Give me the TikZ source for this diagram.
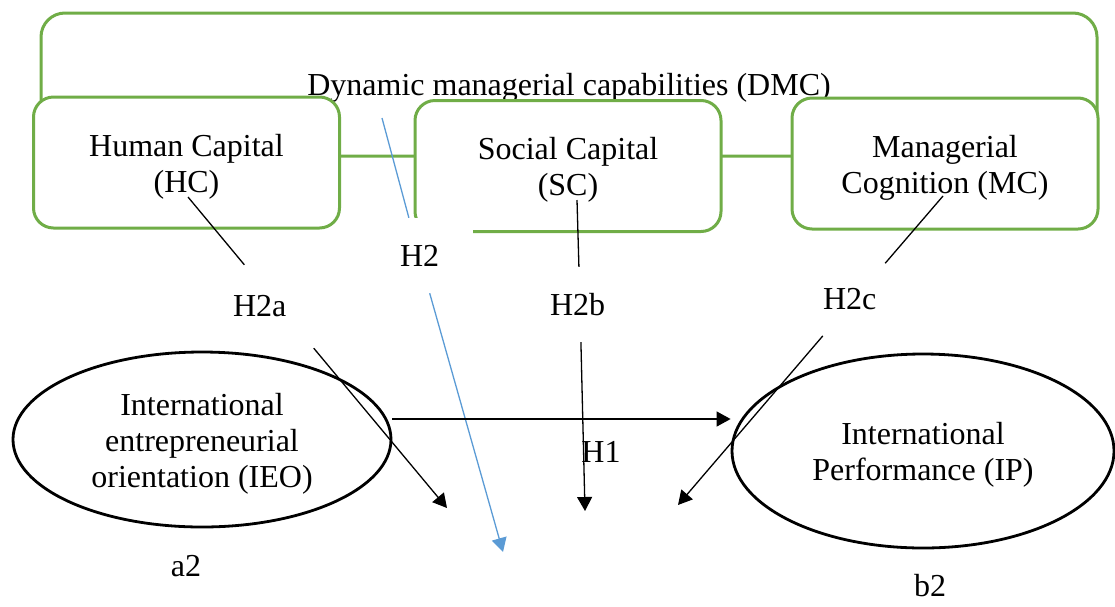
\documentclass[tikz,border=0pt]{standalone}
\usepackage{fontspec}
\setmainfont{Liberation Serif}
\usetikzlibrary{positioning,arrows.meta}
\usetikzlibrary{shapes.geometric}

\definecolor{capgreen}{HTML}{70AD47}
\definecolor{linkblue}{HTML}{5B9BD5}
\newcommand{\diagfont}{\fontsize{32}{36}\selectfont}

\begin{document}
\begin{tikzpicture}[
    x=1pt, y=-1pt,
    % Outer frame
    frame block/.style={
        draw=capgreen,
        line width=3pt,
        rounded corners=24pt,
        minimum width=1056pt,
        minimum height=143pt,
        text height=28pt,
        font=\diagfont
    },
    % Capabilities
    cap block/.style={
        draw=capgreen,
        fill=white,
        line width=3pt,
        rounded corners=20pt,
        minimum width=306pt,
        minimum height=131pt,
        text height=59pt,
        text depth=0pt,
        align=center,
        font=\diagfont
    },
    % Constructs
    construct/.style={
        ellipse,
        draw,
        line width=2.8pt,
        text depth=0pt,
        align=center,
        font=\diagfont
    },
    % Hypothesis labels
    hyp label/.style={
        fill=white,
        inner sep=0pt,
        align=left,
        font=\diagfont
    },
    plain label/.style={
        font=\diagfont
    },
    % Lines
    link/.style={
        line width=1.3pt
    },
    arrow/.style={
        -{Triangle[length=14pt,width=15pt]},
        line width=1.3pt
    }
]
\useasboundingbox (0,0) rectangle (1115,606);

% Frame and capability blocks
\node[frame block] (dmc) at (569,84.5) {Dynamic managerial capabilities (DMC)};
\node[cap block] (hc) at (186.5,162.5) {Human Capital\\(HC)};
\node[cap block] (sc) at (568,166) {Social Capital\\(SC)};
\node[cap block] (mc) at (945,163.5) {Managerial\\Cognition (MC)};

% Constructs
\node[construct, minimum width=378pt, minimum height=175pt, text height=95pt] (ieo) at (202,439.5) {International\\entrepreneurial\\orientation (IEO)};
\node[construct, minimum width=382pt, minimum height=194pt, text height=58pt] (ip) at (923,451) {International\\Performance (IP)};

% Hypotheses
\node[hyp label, text width=38pt, minimum width=108pt, minimum height=75pt] (h2) at (419,255.5) {H2};
\node[hyp label, text width=92pt, minimum height=83pt] (h2a) at (279,306.5) {H2a};
\node[hyp label, text width=60pt, minimum height=75pt] (h2b) at (580,304.5) {H2b};
\node[hyp label, text width=62pt, minimum height=75pt] (h2c) at (854,299.5) {H2c};
\node[plain label] (h1) at (601,452) {H1};
\node[plain label] (a2) at (186,566) {a2};
\node[plain label] (b2) at (930,586) {b2};

% Line ends
\coordinate (hcfoot) at (188,197);
\coordinate (scfoot) at (577,200);
\coordinate (mcfoot) at (943,196);
\coordinate (dmcfoot) at (382,118);
\coordinate (tipa) at (447,508);
\coordinate (tipb) at (585,511);
\coordinate (tipc) at (678,505);
\coordinate (tipdmc) at (503,552);

% Moderation paths
\draw[link] (hcfoot) -- (h2a);
\draw[arrow] (h2a) -- (tipa);
\draw[link] (scfoot) -- (h2b);
\draw[arrow] (h2b) -- (tipb);
\draw[link] (mcfoot) -- (h2c);
\draw[arrow] (h2c) -- (tipc);
\draw[link, color=linkblue] (dmcfoot) -- (h2);
\draw[arrow, color=linkblue] (h2) -- (tipdmc);

% Main path
\draw[arrow] (ieo.east |- 0,419) -- (ip.west |- 0,419);

\end{tikzpicture}
\end{document}
